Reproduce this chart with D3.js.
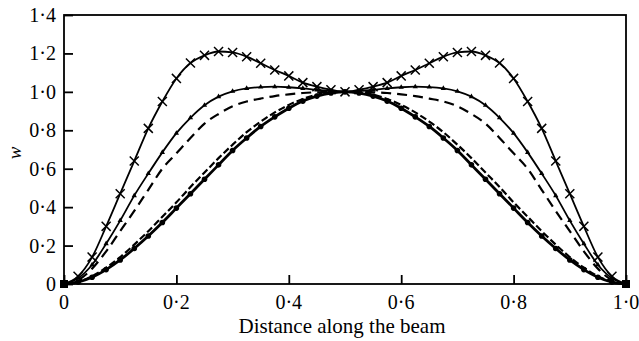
<!DOCTYPE html>
<html>
<head>
<meta charset="utf-8">
<script src="https://cdn.jsdelivr.net/npm/d3@7"></script>
<style>
  body { margin: 0; background: #fff; }
  text { font-family: "Liberation Serif", "Times New Roman", serif; }
</style>
</head>
<body>
<svg id="chart" width="639" height="341"></svg>
<script>
// positions along the beam, every 0.025
var xs = d3.range(41).map(function(i){ return i / 40; });

// curve with x markers (big hump)
var wCross = [0, 0.04, 0.14, 0.30, 0.47, 0.64, 0.81, 0.95, 1.07, 1.15, 1.19, 1.21, 1.205, 1.183, 1.149, 1.114, 1.083, 1.048, 1.027, 1.011, 1.0,
  1.011, 1.027, 1.048, 1.083, 1.114, 1.149, 1.183, 1.205, 1.21, 1.19, 1.15, 1.07, 0.95, 0.81, 0.64, 0.47, 0.30, 0.14, 0.04, 0];
// solid curve with small triangles
var wTri = [0, 0.03, 0.10, 0.21, 0.33, 0.46, 0.575, 0.685, 0.785, 0.865, 0.93, 0.975, 1.003, 1.018, 1.025, 1.027, 1.024, 1.018, 1.01, 1.004, 1.0,
  1.004, 1.01, 1.018, 1.024, 1.027, 1.025, 1.018, 1.003, 0.975, 0.93, 0.865, 0.785, 0.685, 0.575, 0.46, 0.33, 0.21, 0.10, 0.03, 0];
// long dashed curve
var wLong = [0, 0.02, 0.08, 0.17, 0.275, 0.38, 0.49, 0.60, 0.68, 0.76, 0.835, 0.885, 0.925, 0.95, 0.965, 0.978, 0.987, 0.994, 0.998, 1.0, 1.0,
  1.0, 0.998, 0.994, 0.987, 0.978, 0.965, 0.95, 0.925, 0.885, 0.835, 0.76, 0.68, 0.60, 0.49, 0.38, 0.275, 0.17, 0.08, 0.02, 0];
// short dashed curve
var wShort = [0, 0.012, 0.04, 0.085, 0.14, 0.205, 0.275, 0.35, 0.425, 0.505, 0.58, 0.655, 0.725, 0.79, 0.845, 0.893, 0.932, 0.963, 0.985, 0.997, 1.0,
  0.997, 0.985, 0.963, 0.932, 0.893, 0.845, 0.79, 0.725, 0.655, 0.58, 0.505, 0.425, 0.35, 0.275, 0.205, 0.14, 0.085, 0.04, 0.012, 0];
// thick solid curve with dots
var wDot = [0, 0.01, 0.035, 0.075, 0.125, 0.185, 0.25, 0.32, 0.395, 0.47, 0.545, 0.62, 0.695, 0.76, 0.82, 0.87, 0.915, 0.952, 0.978, 0.994, 1.0,
  0.994, 0.978, 0.952, 0.915, 0.87, 0.82, 0.76, 0.695, 0.62, 0.545, 0.47, 0.395, 0.32, 0.25, 0.185, 0.125, 0.075, 0.035, 0.01, 0];

var xTicks = [0, 0.2, 0.4, 0.6, 0.8, 1.0];
var yTicks = [0, 0.2, 0.4, 0.6, 0.8, 1.0, 1.2, 1.4];

var svg = d3.select("#chart");
var plotL = 64, plotR = 626, plotT = 15, plotB = 284;

var x = d3.scaleLinear().domain([0, 1]).range([plotL, plotR]);
var y = d3.scaleLinear().domain([0, 1.4]).range([plotB, plotT]);

function fmt(v) {
  return v === 0 ? "0" : d3.format(".1f")(v).replace(".", "\u00b7");
}

// frame
svg.append("rect")
  .attr("x", plotL).attr("y", plotT)
  .attr("width", plotR - plotL).attr("height", plotB - plotT)
  .attr("fill", "none").attr("stroke", "#000").attr("stroke-width", 1.8);

var xAxis = svg.append("g")
  .attr("transform", "translate(0," + plotB + ")")
  .call(d3.axisTop(x).tickValues(xTicks).tickSize(9).tickFormat(""));
var yAxis = svg.append("g")
  .attr("transform", "translate(" + plotL + ",0)")
  .call(d3.axisRight(y).tickValues(yTicks).tickSize(9).tickFormat(""));
[xAxis, yAxis].forEach(function(g){
  g.select(".domain").remove();
  g.selectAll("line").attr("stroke", "#000").attr("stroke-width", 1.8);
});

svg.selectAll(".xl").data(xTicks).enter().append("text")
  .attr("x", function(d){ return x(d); })
  .attr("y", 309)
  .attr("text-anchor", "middle")
  .attr("font-size", 20)
  .text(fmt);

svg.selectAll(".yl").data(yTicks).enter().append("text")
  .attr("x", 56)
  .attr("y", function(d){ return y(d) + 7; })
  .attr("text-anchor", "end")
  .attr("font-size", 20)
  .text(fmt);

svg.append("text")
  .attr("x", 342).attr("y", 333)
  .attr("text-anchor", "middle")
  .attr("font-size", 21)
  .text("Distance along the beam");

svg.append("text")
  .attr("transform", "translate(21,153) rotate(-90)")
  .attr("text-anchor", "middle")
  .attr("font-size", 19)
  .attr("font-style", "italic")
  .text("w");

var line = d3.line()
  .x(function(d){ return x(d[0]); })
  .y(function(d){ return y(d[1]); })
  .curve(d3.curveMonotoneX);

function pts(ws) { return xs.map(function(v, i){ return [v, ws[i]]; }); }

var curves = [
  { w: wDot, width: 2.8, dash: null },
  { w: wShort, width: 2.2, dash: "7,3" },
  { w: wLong, width: 2.2, dash: "10,6" },
  { w: wTri, width: 1.8, dash: null },
  { w: wCross, width: 1.8, dash: null }
];

curves.forEach(function(c){
  svg.append("path")
    .attr("d", line(pts(c.w)))
    .attr("fill", "none")
    .attr("stroke", "#000")
    .attr("stroke-width", c.width)
    .attr("stroke-dasharray", c.dash);
});

// dots
svg.selectAll(".dot").data(pts(wDot)).enter().append("circle")
  .attr("cx", function(d){ return x(d[0]); })
  .attr("cy", function(d){ return y(d[1]); })
  .attr("r", 2.8)
  .attr("fill", "#000");

// triangles
svg.selectAll(".tri").data(pts(wTri).slice(1, -1)).enter().append("path")
  .attr("d", d3.symbol().type(d3.symbolTriangle).size(12))
  .attr("transform", function(d){ return "translate(" + x(d[0]) + "," + y(d[1]) + ")"; })
  .attr("fill", "#000");

// crosses
svg.selectAll(".cross").data(pts(wCross).slice(1, -1)).enter().append("path")
  .attr("d", d3.symbol().type(d3.symbolX).size(55))
  .attr("transform", function(d){ return "translate(" + x(d[0]) + "," + y(d[1]) + ")"; })
  .attr("fill", "none")
  .attr("stroke", "#000")
  .attr("stroke-width", 1.5);

// end blocks
svg.selectAll(".end").data([0, 1]).enter().append("rect")
  .attr("x", function(d){ return x(d) - 4; })
  .attr("y", plotB - 4)
  .attr("width", 8).attr("height", 8)
  .attr("fill", "#000");
</script>
</body>
</html>
